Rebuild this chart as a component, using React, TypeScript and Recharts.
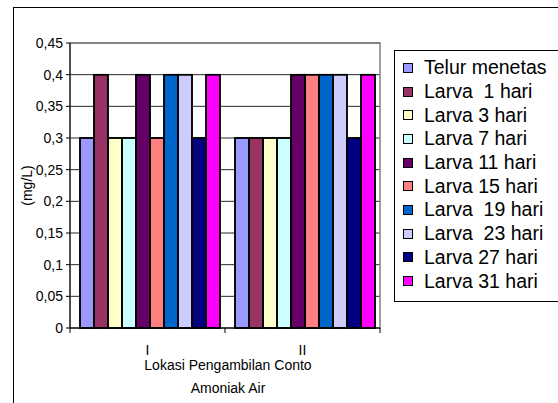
import React from 'react';
import { BarChart, Bar, XAxis, YAxis, CartesianGrid, Legend, ReferenceArea, LabelList } from 'recharts';

const categories = ['I', 'II'];
const seriesNames = [
  'Telur menetas',
  'Larva  1 hari',
  'Larva 3 hari',
  'Larva 7 hari',
  'Larva 11 hari',
  'Larva 15 hari',
  'Larva  19 hari',
  'Larva  23 hari',
  'Larva 27 hari',
  'Larva 31 hari',
];
const seriesColors = [
  '#9999FF',
  '#993366',
  '#FFFFCC',
  '#CCFFFF',
  '#660066',
  '#FF8080',
  '#0066CC',
  '#CCCCFF',
  '#000080',
  '#FF00FF',
];
const valuesI = [0.3, 0.4, 0.3, 0.3, 0.4, 0.3, 0.4, 0.4, 0.3, 0.4];
const valuesII = [0.3, 0.3, 0.3, 0.3, 0.4, 0.4, 0.4, 0.4, 0.3, 0.4];
const yTicks = [0, 0.05, 0.1, 0.15, 0.2, 0.25, 0.3, 0.35, 0.4, 0.45];

const seriesKeys = seriesNames.map((_, i) => `s${i}`);
const data = categories.map((cat, ci) => {
  const row: Record<string, any> = { cat };
  const vals = ci === 0 ? valuesI : valuesII;
  seriesKeys.forEach((k, i) => {
    row[k] = vals[i];
  });
  return row;
});

const FONT = '"Liberation Sans", Arial, sans-serif';

const fmt = (v: number) => String(v).replace('.', ',');

const LegendContent = (props: any) => {
  const payload = [...(props.payload || [])].sort(
    (a: any, b: any) => seriesNames.indexOf(a.value) - seriesNames.indexOf(b.value)
  );
  return (
    <div style={{ paddingTop: 5 }}>
      {payload.map((p: any, i: number) => (
        <div
          key={i}
          style={{
            display: 'flex',
            alignItems: 'center',
            height: 23.7,
            fontFamily: FONT,
            fontSize: 19.5,
            color: '#000',
            whiteSpace: 'pre',
          }}
        >
          <span
            style={{
              display: 'inline-block',
              width: 8,
              height: 8,
              background: seriesColors[seriesNames.indexOf(p.value)] || p.color,
              border: '1px solid #000',
              marginLeft: 8,
              marginRight: 11,
            }}
          />
          <span>{p.value}</span>
        </div>
      ))}
    </div>
  );
};

const XTitle = (props: any) => {
  const vb = props.viewBox || {};
  const cx = vb.x + vb.width / 2 + 3;
  return (
    <g>
      <text x={cx} y={370} textAnchor="middle" fontFamily={FONT} fontSize={14} fill="#000">
        Lokasi Pengambilan Conto
      </text>
      <text x={cx} y={393} textAnchor="middle" fontFamily={FONT} fontSize={14} fill="#000">
        Amoniak Air
      </text>
    </g>
  );
};

const XTick = (props: any) => {
  const { x, y, payload, index, visibleTicksCount } = props;
  const half = payload && payload.offset ? payload.offset : 0;
  const axisY = y - 17;
  const left = x - half;
  const right = x + half;
  const isLast = index === (visibleTicksCount || 2) - 1;
  return (
    <g>
      <line x1={left} x2={left} y1={axisY} y2={axisY + 5} stroke="#000" />
      {isLast && <line x1={right} x2={right} y1={axisY} y2={axisY + 5} stroke="#000" />}
      <text x={x} y={y} dy="0.71em" textAnchor="middle" fontFamily={FONT} fontSize={14} fill="#000">
        {payload.value}
      </text>
    </g>
  );
};

const BarOutline = (props: any) => {
  const vb = props.viewBox && props.viewBox.width != null ? props.viewBox : props;
  const nx = Number(vb.x);
  const ny = Number(vb.y);
  const nw = Number(vb.width);
  const nh = Number(vb.height);
  if (!isFinite(nx) || !isFinite(ny) || !isFinite(nw) || !isFinite(nh)) return null;
  const top = Math.min(ny, ny + nh);
  const h = Math.abs(nh);
  return <rect x={nx} y={top} width={nw} height={h} fill="none" stroke="#000" strokeWidth={1.5} />;
};

export default function App() {
  return (
    <div style={{ position: 'absolute', left: 0, top: 0, width: 558, height: 403, background: '#fff', overflow: 'hidden' }}>
      <div
        style={{
          position: 'absolute',
          left: 13,
          top: 7,
          width: 545,
          height: 396,
          borderLeft: '1px solid #000',
          borderTop: '1px solid #000',
          boxSizing: 'border-box',
        }}
      />
      <div style={{ position: 'absolute', left: 0, top: 0 }}>
        <BarChart
          width={558}
          height={403}
          data={data}
          margin={{ top: 43, right: 178, bottom: 0, left: 0 }}
          barGap={0}
          barCategoryGap={10}
        >
          <CartesianGrid horizontal={true} vertical={false} stroke="#000" strokeOpacity={0.85} />
          <ReferenceArea
            x1="I"
            x2="II"
            y1={0}
            y2={0.45}
            fill="none"
            fillOpacity={0}
            stroke="#808080"
            strokeWidth={1.5}
            ifOverflow="visible"
          />
          <XAxis
            dataKey="cat"
            type="category"
            height={75}
            tickLine={false}
            axisLine={{ stroke: '#000' }}
            tickSize={6}
            tickMargin={11}
            tick={<XTick />}
            interval={0}
            label={<XTitle />}
          />
          <YAxis
            width={70}
            domain={[0, 0.45]}
            ticks={yTicks}
            tickFormatter={fmt}
            tickSize={4}
            tickMargin={3}
            axisLine={{ stroke: '#000' }}
            tickLine={{ stroke: '#000' }}
            tick={{ fontFamily: FONT, fontSize: 14, fill: '#000' }}
            interval={0}
            label={{
              value: '(mg/L)',
              angle: -90,
              position: 'center',
              dx: -8,
              style: { fontFamily: FONT, fontSize: 14, fill: '#000', textAnchor: 'middle' },
            }}
          />
          <Legend
            layout="vertical"
            align="center"
            verticalAlign="middle"
            content={<LegendContent />}
            wrapperStyle={{
              position: 'absolute',
              left: 394,
              top: 50,
              width: 164,
              height: 252,
              border: '1px solid #000',
              borderRight: 'none',
              boxSizing: 'border-box',
              background: '#fff',
            }}
          />
          {seriesKeys.map((k, i) => (
            <Bar
              key={k}
              dataKey={k}
              name={seriesNames[i]}
              fill={seriesColors[i]}
              stroke="#000"
              strokeWidth={1.5}
              isAnimationActive={false}
            >
              <LabelList dataKey={k} content={<BarOutline />} />
            </Bar>
          ))}
        </BarChart>
      </div>
    </div>
  );
}
